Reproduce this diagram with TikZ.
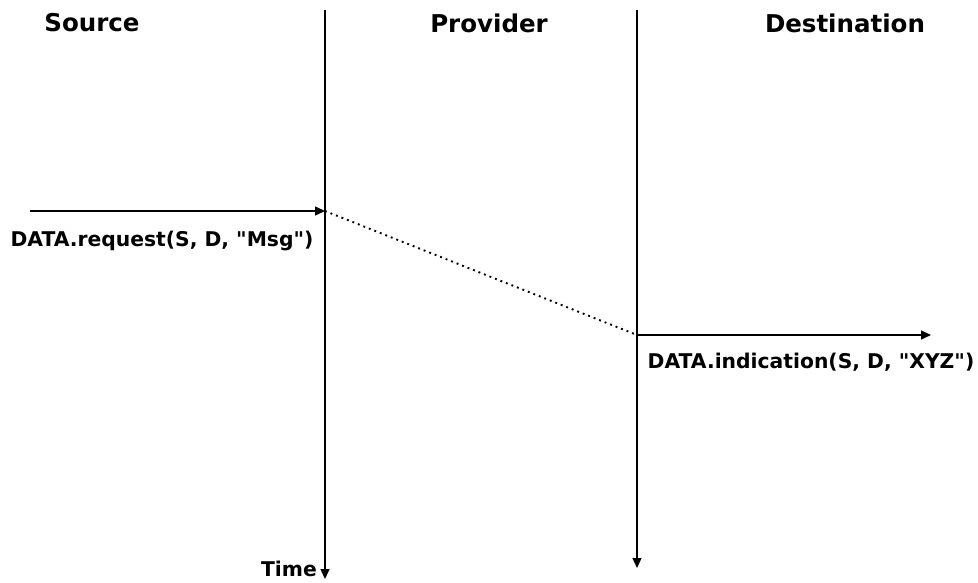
\documentclass[tikz,border=0pt]{standalone}
\usepackage{fontspec}
\setmainfont{DejaVu Sans}
\usetikzlibrary{arrows.meta}
\begin{document}
\begin{tikzpicture}[x=1pt,y=-1pt,
  head/.style={font=\bfseries\fontsize{24.5}{28}\selectfont, inner sep=0pt},
  lbl/.style={font=\bfseries\fontsize{20.3}{24}\selectfont, inner sep=0pt},
  ln/.style={line width=1.3pt},
  arr/.style={ln,-{Triangle[length=10pt,width=9pt]}},
  dots/.style={line width=1.9pt, dash pattern=on 1.9pt off 4pt}]
\useasboundingbox (0,0) rectangle (978,583);
% headers
\node[head] (hsrc) at (92,23) {Source};
\node[head] (hprov) at (489,23) {Provider};
\node[head] (hdst) at (845,23) {Destination};
% lifelines
\coordinate (p1top) at (325,10);
\coordinate (p1bot) at (325,579);
\coordinate (p2top) at (637,10);
\coordinate (p2bot) at (637,568);
\draw[arr] (p1top) -- (p1bot);
\draw[arr] (p2top) -- (p2bot);
% messages
\coordinate (reqstart) at (30,211);
\coordinate (reqend) at (325,211);
\coordinate (indstart) at (637,335);
\coordinate (indend) at (931,335);
\draw[arr] (reqstart) -- (reqend);
\draw[dots] (reqend) -- (indstart);
\draw[arr] (indstart) -- (indend);
% labels
\node[lbl] (lreq) at (162,241) {DATA.request(S, D, \textquotedbl Msg\textquotedbl)};
\node[lbl] (lind) at (811,362) {DATA.indication(S, D, \textquotedbl XYZ\textquotedbl)};
\node[lbl, anchor=east] (ltime) at (317,569) {Time};
\end{tikzpicture}
\end{document}
